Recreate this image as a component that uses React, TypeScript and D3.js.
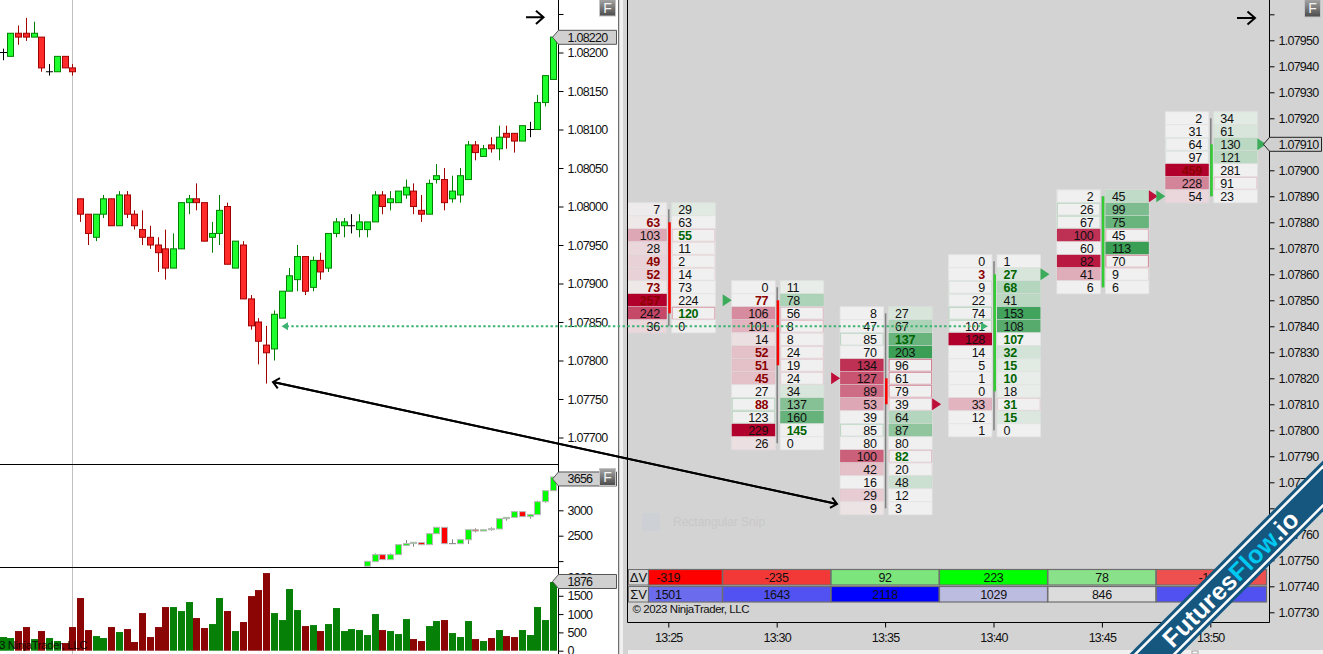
import React, { useEffect, useRef } from 'react';
import * as d3 from 'd3';

// candles of the left price pane
const opens = [1.082,1.08195,1.08225,1.08225,1.0822,1.0822,1.08175,1.08175,1.08195,1.0818,1.0801,1.0799,1.0796,1.0799,1.0801,1.07975,1.08015,1.0799,1.0797,1.0796,1.0795,1.07945,1.0792,1.07945,1.08005,1.0801,1.08005,1.0796,1.07965,1.08,1.0792,1.0795,1.0788,1.0785,1.0782,1.07815,1.07855,1.0789,1.07905,1.07935,1.07895,1.0793,1.0792,1.07965,1.07975,1.07975,1.0797,1.0797,1.0798,1.08015,1.08005,1.08005,1.08015,1.0802,1.07995,1.0799,1.08035,1.08035,1.0801,1.08015,1.08035,1.0808,1.08065,1.0808,1.08075,1.08095,1.08095,1.08085,1.081,1.081,1.08135,1.08165];
const highs = [1.08205,1.08225,1.08235,1.08245,1.0824,1.0822,1.08185,1.08195,1.08195,1.08185,1.0801,1.0799,1.0799,1.08015,1.0801,1.0802,1.0802,1.07995,1.07995,1.07975,1.0796,1.0797,1.07965,1.08005,1.08015,1.0803,1.08005,1.0798,1.08015,1.08005,1.07955,1.07955,1.07885,1.07855,1.07845,1.07865,1.0789,1.0792,1.0795,1.07935,1.07935,1.0794,1.07965,1.07985,1.07985,1.0799,1.0799,1.0798,1.0802,1.0802,1.0802,1.0802,1.08035,1.0803,1.08015,1.08035,1.08055,1.0805,1.0804,1.0805,1.08085,1.08085,1.0808,1.0809,1.08105,1.08105,1.08095,1.08105,1.0811,1.08145,1.0817,1.0822];
const lows = [1.0819,1.08195,1.0821,1.08215,1.0822,1.08175,1.0817,1.08175,1.0818,1.0817,1.0798,1.0795,1.07955,1.07985,1.07975,1.07975,1.07985,1.0797,1.0795,1.07945,1.07915,1.07905,1.0792,1.07945,1.0799,1.07995,1.07955,1.0794,1.0795,1.07925,1.0792,1.0788,1.0784,1.07795,1.0777,1.078,1.07855,1.0789,1.0789,1.07885,1.0789,1.07905,1.07915,1.0796,1.0796,1.07965,1.0796,1.0796,1.0798,1.0799,1.07995,1.08005,1.0801,1.0799,1.0798,1.0799,1.0803,1.07995,1.08005,1.08005,1.08035,1.0806,1.08065,1.0807,1.0806,1.08075,1.0807,1.08085,1.0809,1.081,1.0813,1.08165];
const closes = [1.082,1.08225,1.0822,1.0822,1.08225,1.0818,1.08175,1.08195,1.0818,1.08175,1.0799,1.07965,1.0799,1.0801,1.07975,1.08015,1.0799,1.07975,1.0796,1.0795,1.0794,1.0792,1.07945,1.08005,1.0801,1.08005,1.07955,1.07965,1.07995,1.07925,1.07955,1.0788,1.07845,1.07825,1.0781,1.0786,1.0789,1.0791,1.07935,1.0789,1.0793,1.07915,1.07965,1.0798,1.0798,1.07975,1.0798,1.0798,1.08015,1.08,1.0801,1.0802,1.08025,1.08,1.0799,1.0803,1.0804,1.08005,1.0802,1.0804,1.0808,1.0807,1.08075,1.08075,1.0809,1.0809,1.08085,1.08105,1.081,1.08135,1.0817,1.0822];
const priceTicks = [1.0825,1.082,1.0815,1.081,1.0805,1.08,1.0795,1.079,1.0785,1.078,1.0775,1.077];

// bottom volume pane
const volumes = [373,346,537,646,318,537,346,264,209,646,1438,564,400,346,646,510,591,237,1028,373,646,1192,1192,1083,1329,892,619,728,1438,1083,537,783,1492,1656,2120,1028,837,1684,1110,673,700,537,728,1165,537,591,564,428,1001,564,537,455,864,318,264,673,810,837,482,373,810,318,264,346,564,400,373,564,428,1192,837,1876];
const volumeTicks = [2000,1500,1000,500,0];

// middle cumulative pane, only the visible bars
const deltaIndex = [47,48,49,50,51,52,53,54,55,56,57,58,59,60,61,62,63,64,65,66,67,68,69,70,71];
const deltaOpen = [1900,1989,2127,2029,2127,2310,2345,2365,2324,2540,2665,2343,2343,2421,2618,2592,2618,2632,2835,2861,2973,2875,2914,3170,3386];
const deltaHigh = [1996,2150,2127,2150,2324,2415,2370,2365,2540,2665,2665,2430,2421,2618,2645,2618,2665,2835,2861,2973,2973,2927,3190,3386,3656];
const deltaLow = [1900,1989,2029,2029,2127,2298,2285,2324,2324,2540,2343,2343,2343,2336,2566,2592,2598,2632,2796,2861,2875,2835,2914,3150,3386];
const deltaClose = [1996,2127,2029,2127,2324,2345,2370,2324,2540,2665,2343,2343,2421,2618,2592,2618,2638,2835,2861,2973,2875,2914,3170,3386,3656];
const deltaTicks = [3500,3000,2500,2000];

// right pane, one entry for each five minute bar
const barMinutes = [25,30,35,40,45,50];
const topPrices = [1.07885,1.07855,1.07845,1.07865,1.0789,1.0792];
const bidVolumes = [
  [7,63,103,28,49,52,73,257,242,36],
  [0,77,106,101,14,52,51,45,27,88,123,229,26],
  [8,47,85,70,134,127,89,53,39,85,80,100,42,16,29,9],
  [0,3,9,22,74,101,128,14,5,1,0,33,12,1],
  [2,26,67,100,60,82,41,6],
  [2,31,64,97,459,228,54],
];
const askVolumes = [
  [29,63,55,11,2,14,73,224,120,0],
  [11,78,56,8,8,24,19,24,34,137,160,145,0],
  [27,67,137,203,96,61,79,39,64,87,80,82,20,48,12,3],
  [1,27,68,41,153,108,107,32,15,10,18,31,15,0],
  [45,99,75,45,113,70,9,6],
  [34,61,130,121,281,91,23],
];
const bidShades = [
  [0.02,0.03,0.3,0.1,0.12,0.13,0.03,1,0.7,0.1],
  [0,0,0.42,0.25,0.07,0.2,0.2,0.2,0,0,0,1,0.07],
  [0,0,0,0,0.8,0.65,0.55,0.3,0,0,0,0.6,0.2,0,0.15,0.05],
  [0,0,0,0,0,0,1,0,0,0,0,0.25,0,0],
  [0,0,0,0.8,0,0.9,0.28,0],
  [0,0,0,0,1,0.45,0.1],
];
const askShades = [
  [0.08,0,0,0,0,0,0,0,0,0],
  [0.03,0.35,0,0,0,0,0,0,0.12,0.55,0.72,0,0],
  [0.12,0.35,0.7,0.95,0,0,0,0,0.3,0.5,0,0,0,0.18,0,0],
  [0,0.12,0.3,0.28,0.9,0.8,0,0.15,0.07,0.03,0.03,0,0.1,0],
  [0.25,0.6,0.7,0,0.95,0,0,0],
  [0.07,0.12,0.28,0.28,0,0,0],
];
const bidEdges = [
  [0,0,0,0,0,0,0,0,0,0],
  [0,0,0,0,0,0,0,0,0,0.35,0.35,0,0],
  [0,0,0.3,0,0,0,0,0,0,0.3,0,0,0,0,0,0],
  [0,0,0.15,0.1,0.35,0.3,0,0,0,0,0,0,0,0],
  [0.05,0.3,0.25,0,0,0,0,0],
  [0,0,0.1,0.1,0,0,0],
];
const askEdges = [
  [0,0,0.2,0.1,0.1,0.1,0,0,0.4,0],
  [0,0,0.25,0.25,0.08,0.15,0.15,0.15,0,0,0,0,0],
  [0,0,0,0,0.6,0.5,0.5,0.25,0,0,0,0.25,0.05,0,0,0],
  [0,0,0,0,0,0,0,0,0,0,0,0.15,0,0],
  [0,0,0,0.3,0,0.5,0.1,0],
  [0,0,0,0,0,0.2,0],
];
const bidBold = [[1,4,5,6,7],[1,5,6,7,9],[],[1],[],[4]];
const askBold = [[2,8],[11],[2,11],[1,2,6,7,8,9,11,12],[],[]];
const barHigh = [1.07885,1.07855,1.07845,1.07865,1.0789,1.0792];
const barLow = [1.0784,1.07795,1.0777,1.078,1.07855,1.0789];
const barOpen = [1.0788,1.0785,1.0782,1.07815,1.07855,1.0789];
const barClose = [1.07845,1.07825,1.0781,1.0786,1.0789,1.0791];
const markerBars = [1,2,2,3,4,5,5];
const markerPrices = [1.0785,1.0782,1.0781,1.0786,1.0789,1.0789,1.0791];
const markerSides = ['left','left','right','right','right','left','right'];
const markerUp = [true,false,false,true,false,true,true];
const rightTicks = [1.0796,1.0795,1.0794,1.0793,1.0792,1.0791,1.079,1.0789,1.0788,1.0787,1.0786,1.0785,1.0784,1.0783,1.0782,1.0781,1.078,1.0779,1.0778,1.0777,1.0776,1.0775,1.0774,1.0773];
const barDelta = [-319,-235,92,223,78,-199];
const barTotal = [1501,1643,2118,1029,846,1650];

const LABEL_FONT = '"Liberation Sans", Arial, sans-serif';

function App() {
  const svgRef = useRef<SVGSVGElement>(null);

  useEffect(() => {
    const svg = d3.select(svgRef.current);
    svg.selectAll('*').remove();
    document.body.style.margin = '0';

    const defs = svg.append('defs');
    const grad = defs.append('linearGradient').attr('id', 'fbtn').attr('x1', 0).attr('y1', 0).attr('x2', 0).attr('y2', 1);
    grad.append('stop').attr('offset', '0%').attr('stop-color', '#a8a8a8');
    grad.append('stop').attr('offset', '100%').attr('stop-color', '#4a4a4a');
    const addClip = (id: string, x: number, y: number, w: number, h: number) =>
      defs.append('clipPath').attr('id', id).append('rect').attr('x', x).attr('y', y).attr('width', w).attr('height', h);
    addClip('pricePane', 0, 0, 558, 464);
    addClip('deltaPane', 0, 465, 558, 102);
    addClip('volumePane', 0, 568, 618, 86);
    addClip('rightPane', 628, 0, 641, 622);

    // backgrounds
    svg.append('rect').attr('width', 1323).attr('height', 654).attr('fill', '#ffffff');
    svg.append('rect').attr('x', 618).attr('width', 705).attr('height', 654).attr('fill', '#d3d3d3');
    svg.append('rect').attr('x', 618).attr('width', 1).attr('height', 654).attr('fill', '#707070');
    svg.append('rect').attr('x', 620).attr('width', 3).attr('height', 654).attr('fill', '#f0f0f0');
    svg.append('rect').attr('x', 628).attr('y', 650).attr('width', 695).attr('height', 4).attr('fill', '#f0f0f0');
    svg.append('rect').attr('x', 1192).attr('y', 651).attr('width', 6).attr('height', 3).attr('fill', '#ffffff').attr('stroke', '#a0a0a0');

    // left scales
    const xLeft = d3.scaleLinear().domain([0, opens.length - 1]).range([2.5, 552.75]);
    const yPrice = d3.scaleLinear().domain([1.082, 1.077]).range([52.5, 437.5]);
    const yDelta = d3.scaleLinear().domain([3000, 2500]).range([510.3, 535.7]);
    const yVolume = d3.scaleLinear().domain([0, 1876]).range([650.7, 582]);
    const px = (v: number) => Math.round(v) + 0.5;

    // session line
    svg.append('line').attr('x1', 72.5).attr('x2', 72.5).attr('y1', 0).attr('y2', 654).attr('stroke', '#c0c0c0');

    // price candles
    const priceG = svg.append('g').attr('clip-path', 'url(#pricePane)');
    opens.forEach((o, i) => {
      const c = closes[i];
      const x = px(xLeft(i));
      const up = c > o;
      const flat = c === o;
      const edge = flat ? '#000000' : up ? '#008000' : '#a00000';
      priceG.append('line').attr('x1', x).attr('x2', x).attr('y1', yPrice(highs[i])).attr('y2', yPrice(lows[i])).attr('stroke', edge);
      if (flat) {
        priceG.append('line').attr('x1', x - 3.5).attr('x2', x + 3.5).attr('y1', yPrice(o)).attr('y2', yPrice(o)).attr('stroke', edge);
      } else {
        priceG.append('rect')
          .attr('x', x - 3).attr('width', 6)
          .attr('y', yPrice(Math.max(o, c)))
          .attr('height', Math.abs(yPrice(o) - yPrice(c)))
          .attr('fill', up ? '#1eff2e' : '#ff2a2a')
          .attr('stroke', edge);
      }
    });

    // cumulative candles
    const deltaG = svg.append('g').attr('clip-path', 'url(#deltaPane)');
    deltaIndex.forEach((idx, i) => {
      const x = px(xLeft(idx));
      const o = deltaOpen[i];
      const c = deltaClose[i];
      deltaG.append('line').attr('x1', x).attr('x2', x).attr('y1', yDelta(deltaHigh[i])).attr('y2', yDelta(deltaLow[i])).attr('stroke', '#808080');
      if (o === c) {
        deltaG.append('line').attr('x1', x - 3.5).attr('x2', x + 3.5).attr('y1', yDelta(o)).attr('y2', yDelta(o)).attr('stroke', '#808080');
      } else {
        deltaG.append('rect')
          .attr('x', x - 3).attr('width', 6)
          .attr('y', yDelta(Math.max(o, c)))
          .attr('height', Math.abs(yDelta(o) - yDelta(c)))
          .attr('fill', c > o ? '#00ff00' : '#ff0000')
          .attr('stroke', '#b8b8b8');
      }
    });

    // volume bars
    const volumeG = svg.append('g').attr('clip-path', 'url(#volumePane)');
    volumeG.selectAll('rect').data(volumes).join('rect')
      .attr('x', (d, i) => Math.round(xLeft(i)) - 3)
      .attr('width', 7)
      .attr('y', d => yVolume(d))
      .attr('height', d => yVolume(0) - yVolume(d))
      .attr('fill', (d, i) => closes[i] >= opens[i] ? '#078007' : '#8b0505');

    volumeG.append('text').attr('x', 87).attr('y', 648.5).attr('text-anchor', 'end')
      .attr('font-family', LABEL_FONT).attr('font-size', 11.5).attr('letter-spacing', '-0.45px').attr('fill', '#000').attr('fill-opacity', 0.85)
      .text('© 2023 NinjaTrader, LLC');

    // axes
    const styleAxis = (g: any) => {
      g.select('.domain').remove();
      g.selectAll('line').attr('stroke', '#000');
      g.selectAll('text').attr('font-family', LABEL_FONT).attr('font-size', 12.5)
        .attr('letter-spacing', '-0.75px').attr('fill', '#111');
    };
    const leftAxis = (scale: any, ticks: number[], fmt: (d: number) => string, clip?: string) => {
      const g = svg.append('g').attr('transform', 'translate(558.5,0)');
      if (clip) g.attr('clip-path', clip);
      g.call(d3.axisRight(scale).tickValues(ticks).tickSize(5).tickPadding(4).tickFormat(fmt as any));
      styleAxis(g);
    };
    leftAxis(yPrice, priceTicks, d => d === 1.0825 ? '' : d.toFixed(5));
    leftAxis(yDelta, deltaTicks, d => (d === 3000 || d === 2500) ? String(d) : '');
    leftAxis(yVolume, volumeTicks, d => String(d));

    svg.append('line').attr('x1', 558.5).attr('x2', 558.5).attr('y1', 0).attr('y2', 654).attr('stroke', '#000');
    svg.append('line').attr('x1', 0).attr('x2', 558.5).attr('y1', 464.5).attr('y2', 464.5).attr('stroke', '#000');
    svg.append('line').attr('x1', 0).attr('x2', 558.5).attr('y1', 567.5).attr('y2', 567.5).attr('stroke', '#000');

    // right scales
    const barTimes = barMinutes.map(m => new Date(2023, 0, 2, 13, m));
    const xRight = d3.scaleTime().domain([barTimes[0], barTimes[5]]).range([668.3, 1210.3]);
    const yRight = d3.scaleLinear().domain([1.0791, 1.0773]).range([144.3, 612.3]);
    const rowH = yRight(1.0790) / 2 - yRight(1.0791) / 2;

    const ladder = svg.append('g').attr('clip-path', 'url(#rightPane)');
    const CELL_W = 43.5;
    const red = '#b2002d';
    const green = '#2f9a4c';

    barTimes.forEach((t, b) => {
      const c = xRight(t);
      const bidLeft = c - 45;
      const askLeft = c + 3.5;
      bidVolumes[b].forEach((bid, r) => {
        const yc = yRight(topPrices[b] - r * 0.00005);
        const top = yc - rowH / 2;
        [bidLeft, askLeft].forEach((cellX, side) => {
          ladder.append('rect').attr('x', cellX).attr('y', top).attr('width', CELL_W).attr('height', rowH)
            .attr('fill', '#f0f0f0').attr('stroke', '#e4e4e4').attr('stroke-width', 0.8);
          const shade = side === 0 ? bidShades[b][r] : askShades[b][r];
          if (shade > 0) {
            ladder.append('rect').attr('x', cellX).attr('y', top).attr('width', CELL_W).attr('height', rowH)
              .attr('fill', side === 0 ? red : green).attr('fill-opacity', shade);
          }
          const edge = side === 0 ? bidEdges[b][r] : askEdges[b][r];
          if (edge > 0) {
            ladder.append('rect').attr('x', cellX + 0.5).attr('y', top + 0.5).attr('width', CELL_W - 1).attr('height', rowH - 1)
              .attr('fill', 'none').attr('stroke', side === 0 ? green : red).attr('stroke-opacity', edge * 0.85).attr('stroke-width', 1);
          }
        });
        const isBidBold = bidBold[b].includes(r);
        const isAskBold = askBold[b].includes(r);
        ladder.append('text').attr('x', c - 8.5).attr('y', yc + 5).attr('text-anchor', 'end')
          .attr('font-family', LABEL_FONT).attr('font-size', 12.5).attr('letter-spacing', '-0.3px')
          .attr('font-weight', isBidBold ? 700 : 400)
          .attr('fill', isBidBold ? '#8b0000' : '#111')
          .text(bid);
        ladder.append('text').attr('x', c + 10).attr('y', yc + 5)
          .attr('font-family', LABEL_FONT).attr('font-size', 12.5).attr('letter-spacing', '-0.3px')
          .attr('font-weight', isAskBold ? 700 : 400)
          .attr('fill', isAskBold ? '#006400' : '#111')
          .text(askVolumes[b][r]);
      });

      // candle in the gap between the two columns
      const cx = c + 0.5;
      const up = barClose[b] > barOpen[b];
      ladder.append('line').attr('x1', cx).attr('x2', cx).attr('y1', yRight(barHigh[b])).attr('y2', yRight(barLow[b]))
        .attr('stroke', '#808080').attr('stroke-width', 1.5);
      ladder.append('rect').attr('x', cx - 0.5).attr('width', 2.5)
        .attr('y', yRight(Math.max(barOpen[b], barClose[b])))
        .attr('height', Math.abs(yRight(barOpen[b]) - yRight(barClose[b])))
        .attr('fill', up ? '#32cd32' : '#ff0000');
    });

    // close markers
    markerBars.forEach((b, i) => {
      const c = xRight(barTimes[b]);
      const y = yRight(markerPrices[i]);
      const x0 = markerSides[i] === 'left' ? c - 54 : c + 47;
      ladder.append('path')
        .attr('d', `M${x0},${y - 6}L${x0 + 9},${y}L${x0},${y + 6}Z`)
        .attr('fill', markerUp[i] ? '#3cab5a' : '#bd0f3a');
    });

    // delta and total rows
    const colorDelta = d3.scaleLinear<string>().domain([-319, 0, 223]).range(['#ff0000', '#d3d3d3', '#00ff00']);
    const colorTotal = d3.scaleLinear<string>().domain([846, 2118]).range(['#dcdcdc', '#0000ff']);
    const rowY = [569.5, 586.5];
    const rowHeights = [15.5, 15.5];
    const colX = (b: number) => b === 0 ? 648.5 : xRight(barTimes[b]) - 54;
    const colR = (b: number) => b === 5 ? 1266.5 : xRight(barTimes[b]) + 54;
    [barDelta, barTotal].forEach((vals, r) => {
      svg.append('rect').attr('x', 628.5).attr('y', rowY[r]).attr('width', 20).attr('height', rowHeights[r])
        .attr('fill', '#d3d3d3').attr('stroke', '#707070').attr('stroke-width', 1);
      svg.append('text').attr('x', 638.5).attr('y', rowY[r] + 12.5).attr('text-anchor', 'middle')
        .attr('font-family', LABEL_FONT).attr('font-size', 13).attr('fill', '#111')
        .text(r === 0 ? 'ΔV' : 'ΣV');
      vals.forEach((v, b) => {
        const x = colX(b);
        const w = colR(b) - x;
        svg.append('rect').attr('x', x).attr('y', rowY[r]).attr('width', w).attr('height', rowHeights[r])
          .attr('fill', r === 0 ? colorDelta(v) : colorTotal(v)).attr('stroke', '#6e6e6e').attr('stroke-width', 1.2);
        svg.append('text').attr('x', xRight(barTimes[b])).attr('y', rowY[r] + 12.3).attr('text-anchor', 'middle')
          .attr('font-family', LABEL_FONT).attr('font-size', 12.5).attr('letter-spacing', '-0.3px').attr('fill', '#111').text(v);
      });
    });

    svg.append('text').attr('x', 632.5).attr('y', 613).attr('font-family', LABEL_FONT).attr('font-size', 11.5).attr('letter-spacing', '-0.45px').attr('fill', '#111')
      .text('© 2023 NinjaTrader, LLC');

    // faint snip tool text left in the screenshot
    svg.append('rect').attr('x', 642).attr('y', 513).attr('width', 18).attr('height', 18).attr('rx', 2).attr('fill', '#cdd0d5');
    svg.append('text').attr('x', 673).attr('y', 526).attr('font-family', LABEL_FONT).attr('font-size', 12).attr('fill', '#c8c8c8')
      .text('Rectangular Snip');

    // right axes
    const axisY = svg.append('g').attr('transform', 'translate(1269.5,0)');
    axisY.call(d3.axisRight(yRight).tickValues(rightTicks).tickSize(5).tickPadding(4)
      .tickFormat((d: any) => d === 1.0796 ? '' : d.toFixed(5)));
    styleAxis(axisY);
    const axisX = svg.append('g').attr('transform', 'translate(0,622.5)');
    axisX.call(d3.axisBottom(xRight).tickValues(barTimes).tickSize(5).tickPadding(6)
      .tickFormat(d3.timeFormat('%H:%M') as any));
    styleAxis(axisX);

    svg.append('line').attr('x1', 627.5).attr('x2', 627.5).attr('y1', 0).attr('y2', 622.5).attr('stroke', '#000');
    svg.append('line').attr('x1', 1269.5).attr('x2', 1269.5).attr('y1', 0).attr('y2', 622.5).attr('stroke', '#000');
    svg.append('line').attr('x1', 627.5).attr('x2', 1269.5).attr('y1', 622.5).attr('y2', 622.5).attr('stroke', '#000');

    // dotted level between both charts
    const levelY = yRight(1.0784);
    const levelX0 = xLeft(36);
    const levelX1 = xRight(barTimes[3]) - 5.5;
    svg.append('line').attr('x1', levelX0 + 5).attr('x2', levelX1 - 4).attr('y1', levelY).attr('y2', levelY)
      .attr('stroke', '#3cb371').attr('stroke-width', 2).attr('stroke-dasharray', '2.4,2.4');
    svg.append('path').attr('d', `M${levelX0},${levelY}l6.5,-4v8Z`).attr('fill', '#3cb371');
    svg.append('path').attr('d', `M${levelX1},${levelY}l-7,-4v8Z`).attr('fill', '#3cb371');

    // drawn arrows
    const blackArrow = (x1: number, y1: number, x2: number, y2: number, head: number, w: number) => {
      const a = Math.atan2(y2 - y1, x2 - x1);
      const spread = 0.72;
      const path = d3.path();
      path.moveTo(x1, y1);
      path.lineTo(x2, y2);
      path.moveTo(x2 - head * Math.cos(a - spread), y2 - head * Math.sin(a - spread));
      path.lineTo(x2, y2);
      path.lineTo(x2 - head * Math.cos(a + spread), y2 - head * Math.sin(a + spread));
      svg.append('path').attr('d', path.toString()).attr('fill', 'none').attr('stroke', '#000').attr('stroke-width', w);
    };
    blackArrow(526, 17.3, 543.5, 17.3, 10, 2);
    blackArrow(1237, 18, 1255, 18, 10, 2);
    blackArrow(273, 382, 837, 504, 8, 2);
    blackArrow(837, 504, 273, 382, 8, 2);

    // value labels on the axes
    const tag = (x0: number, xBody: number, xEnd: number, y: number, text: string, textX: number, stroke: string) => {
      svg.append('path')
        .attr('d', `M${x0},${y}L${xBody},${y - 7}H${xEnd}V${y + 7}H${xBody}Z`)
        .attr('fill', '#d0d0d0').attr('stroke', stroke);
      svg.append('text').attr('x', textX).attr('y', y + 4.5)
        .attr('font-family', LABEL_FONT).attr('font-size', 12.5).attr('letter-spacing', '-0.75px').attr('fill', '#111').text(text);
    };
    tag(552.5, 558.5, 616.5, yPrice(closes[71]) + 0.2, closes[71].toFixed(5), 567.5, '#555');
    tag(552.5, 558.5, 616.5, yDelta(3656) + 2, '3656', 567.5, '#555');
    tag(552.5, 558.5, 616.5, yVolume(1876) - 0.5, '1876', 567.5, '#555');
    tag(1263.5, 1269.5, 1321.5, yRight(1.0791), (1.0791).toFixed(5), 1278.5, '#222');

    // F buttons
    const fButton = (x: number, y: number, h: number) => {
      svg.append('rect').attr('x', x).attr('y', y).attr('width', 16).attr('height', h)
        .attr('fill', 'url(#fbtn)').attr('stroke', '#c4c4c4');
      svg.append('text').attr('x', x + 8).attr('y', y + h / 2 + 5).attr('text-anchor', 'middle')
        .attr('font-family', LABEL_FONT).attr('font-size', 14).attr('fill', '#f4f4f4').text('F');
    };
    fButton(599.5, -1, 17);
    fButton(1304.5, -1, 18);
    fButton(599.5, 468.5, 17);

    // watermark ribbon
    const ribbon = svg.append('g').attr('transform', 'translate(1155,654) rotate(-45)');
    ribbon.append('rect').attr('x', -20).attr('y', -18).attr('width', 330).attr('height', 36).attr('fill', '#15577f');
    ribbon.append('rect').attr('x', -20).attr('y', -15).attr('width', 330).attr('height', 2.5).attr('fill', '#ffffff');
    ribbon.append('rect').attr('x', -20).attr('y', 12.5).attr('width', 330).attr('height', 2.5).attr('fill', '#ffffff');
    const label = ribbon.append('text').attr('x', 16).attr('y', 9)
      .attr('font-family', LABEL_FONT).attr('font-weight', 700).attr('font-size', 25).attr('letter-spacing', '0.3px').attr('fill', '#ffffff');
    label.append('tspan').text('Futures');
    label.append('tspan').attr('fill', '#00c8f0').text('Flow');
    label.append('tspan').text('.io');
  }, []);

  return (
    <svg ref={svgRef} width={1323} height={654} style={{ position: 'absolute', left: 0, top: 0, display: 'block' }} />
  );
}

export default App;
